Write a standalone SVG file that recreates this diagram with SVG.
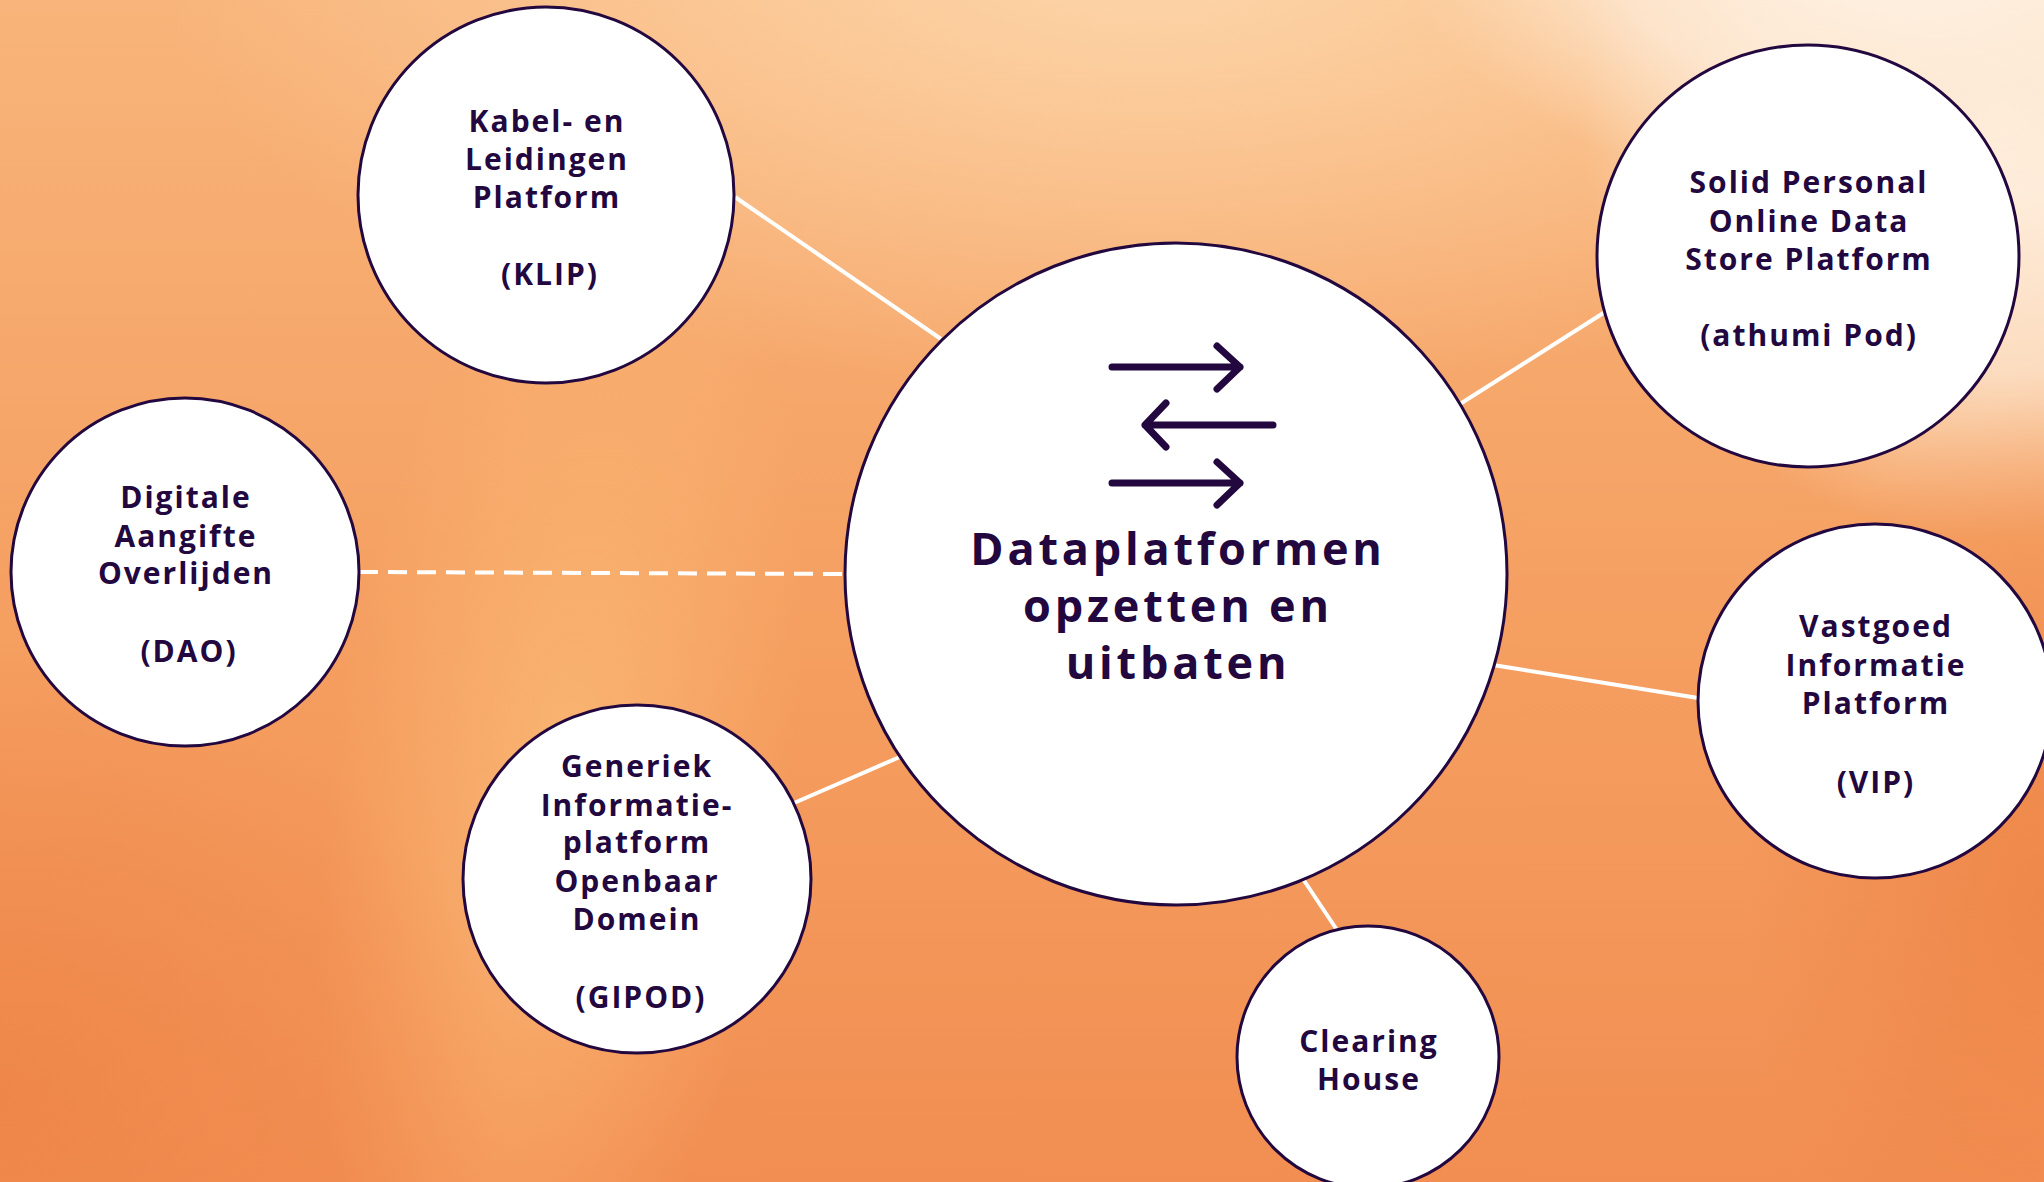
<svg xmlns="http://www.w3.org/2000/svg" width="2044" height="1182" viewBox="0 0 2044 1182">
  <defs>
    <linearGradient id="bgBase" x1="0" y1="0" x2="0" y2="1">
      <stop offset="0" stop-color="#f8b47a"/>
      <stop offset="0.5" stop-color="#f5a062"/>
      <stop offset="1" stop-color="#f28e52"/>
    </linearGradient>
    <radialGradient id="topGlow" cx="0.5" cy="0.5" r="0.5">
      <stop offset="0" stop-color="#fdd6aa" stop-opacity="1"/>
      <stop offset="1" stop-color="#fdd6aa" stop-opacity="0"/>
    </radialGradient>
    <radialGradient id="cream" cx="0.5" cy="0.5" r="0.5">
      <stop offset="0" stop-color="#fff3e6" stop-opacity="1"/>
      <stop offset="0.6" stop-color="#fde9d4" stop-opacity="0.8"/>
      <stop offset="1" stop-color="#fde2c4" stop-opacity="0"/>
    </radialGradient>
    <radialGradient id="band" cx="0.5" cy="0.5" r="0.5">
      <stop offset="0" stop-color="#fab774" stop-opacity="0.9"/>
      <stop offset="1" stop-color="#fab774" stop-opacity="0"/>
    </radialGradient>
    <radialGradient id="dark" cx="0.5" cy="0.5" r="0.5">
      <stop offset="0" stop-color="#ee8548" stop-opacity="0.9"/>
      <stop offset="1" stop-color="#ee8548" stop-opacity="0"/>
    </radialGradient>
    <style>
      .node { fill: #ffffff; stroke: #22083f; stroke-width: 3; }
      .lbl { font-family: "Open Sans", "Noto Sans", "Liberation Sans", sans-serif; font-weight: 700; fill: #22083f; text-anchor: middle; }
      .small { font-size: 30px; letter-spacing: 2px; }
      .big { font-size: 45px; letter-spacing: 3.8px; }
      .conn { stroke: #ffffff; stroke-width: 4; fill: none; }
      .dash { stroke-dasharray: 19 10; }
      .arrow { stroke: #22083f; stroke-width: 7; fill: none; stroke-linecap: round; stroke-linejoin: round; }
    </style>
  </defs>

  <g id="background">
    <rect x="0" y="0" width="2044" height="1182" fill="url(#bgBase)"/>
    <ellipse cx="1150" cy="-50" rx="1000" ry="450" fill="url(#topGlow)"/>
    <ellipse cx="560" cy="780" rx="230" ry="620" fill="url(#band)" transform="rotate(8 560 780)"/>
    <ellipse cx="2000" cy="120" rx="420" ry="420" fill="url(#cream)"/>
    <ellipse cx="1900" cy="-60" rx="500" ry="260" fill="url(#cream)"/>
    <ellipse cx="0" cy="1100" rx="500" ry="450" fill="url(#dark)"/>
    <ellipse cx="2044" cy="900" rx="300" ry="500" fill="url(#dark)"/>
  </g>

  <g id="connectors">
    <line class="conn" x1="735" y1="197" x2="941" y2="339"/>
    <line class="conn" x1="1460" y1="404" x2="1605" y2="312"/>
    <line class="conn dash" x1="359" y1="572" x2="846" y2="574"/>
    <line class="conn" x1="1493" y1="665" x2="1698" y2="698"/>
    <line class="conn" x1="794" y1="803" x2="902" y2="756"/>
    <line class="conn" x1="1303" y1="879" x2="1337" y2="930"/>
  </g>

  <g id="node-center">
    <circle class="node" cx="1176" cy="574" r="331"/>
    <path class="arrow" d="M1112 367 H1240 M1217 346 L1240 367 L1217 389"/>
    <path class="arrow" d="M1273 425 H1145 M1166 403 L1145 425 L1166 447"/>
    <path class="arrow" d="M1112 483 H1240 M1217 462 L1240 483 L1217 505"/>
    <text class="lbl big"><tspan x="1178" y="565">Dataplatformen</tspan><tspan x="1178" y="622">opzetten en</tspan><tspan x="1178" y="679">uitbaten</tspan></text>
  </g>

  <g id="node-klip">
    <circle class="node" cx="546" cy="195" r="188"/>
    <text class="lbl small"><tspan x="547" y="132">Kabel- en</tspan><tspan x="547" y="170">Leidingen</tspan><tspan x="547" y="208">Platform</tspan><tspan x="550" y="285">(KLIP)</tspan></text>
  </g>

  <g id="node-athumi">
    <circle class="node" cx="1808" cy="256" r="211"/>
    <text class="lbl small"><tspan x="1809" y="193">Solid Personal</tspan><tspan x="1809" y="232">Online Data</tspan><tspan x="1809" y="270">Store Platform</tspan><tspan x="1809" y="346">(athumi Pod)</tspan></text>
  </g>

  <g id="node-dao">
    <circle class="node" cx="185" cy="572" r="174"/>
    <text class="lbl small"><tspan x="186" y="508">Digitale</tspan><tspan x="186" y="547">Aangifte</tspan><tspan x="186" y="584">Overlijden</tspan><tspan x="189" y="662">(DAO)</tspan></text>
  </g>

  <g id="node-vip">
    <circle class="node" cx="1875" cy="701" r="177"/>
    <text class="lbl small"><tspan x="1876" y="637">Vastgoed</tspan><tspan x="1876" y="676">Informatie</tspan><tspan x="1876" y="714">Platform</tspan><tspan x="1876" y="793">(VIP)</tspan></text>
  </g>

  <g id="node-gipod">
    <circle class="node" cx="637" cy="879" r="174"/>
    <text class="lbl small"><tspan x="637" y="777">Generiek</tspan><tspan x="637" y="816">Informatie-</tspan><tspan x="637" y="853">platform</tspan><tspan x="637" y="892">Openbaar</tspan><tspan x="637" y="930">Domein</tspan><tspan x="641" y="1008">(GIPOD)</tspan></text>
  </g>

  <g id="node-clearing">
    <circle class="node" cx="1368" cy="1057" r="131"/>
    <text class="lbl small"><tspan x="1369" y="1052">Clearing</tspan><tspan x="1369" y="1090">House</tspan></text>
  </g>
</svg>
